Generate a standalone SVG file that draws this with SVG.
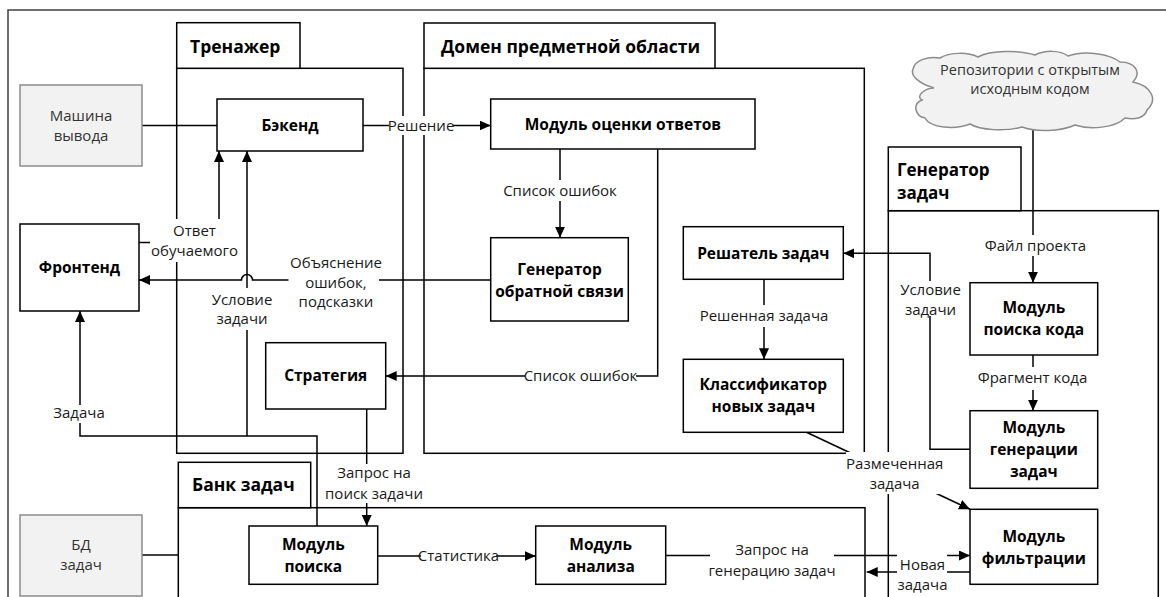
<svg xmlns="http://www.w3.org/2000/svg" width="1166" height="597" viewBox="0 0 1166 597">
<defs>
<marker id="ah" markerUnits="userSpaceOnUse" markerWidth="12" markerHeight="11" refX="11" refY="5" orient="auto">
<path d="M0,0 L11,5 L0,10 z" fill="#000"/>
</marker>
<style>
.box{fill:#fff;stroke:#000;stroke-width:1.5}
.gbox{fill:#f2f2f2;stroke:#8c8c8c;stroke-width:1.5}
.cont{fill:none;stroke:#000;stroke-width:1.5}
.tab{fill:#fff;stroke:#000;stroke-width:1.5}
.ln{fill:none;stroke:#000;stroke-width:1.5}
.arr{marker-end:url(#ah)}
.lbg{fill:#fff}
text{font-family:"Open Sans","Noto Sans","DejaVu Sans",sans-serif;font-size:15px;fill:#1a1a1a;text-anchor:middle}
.b{font-weight:bold;font-size:15.5px;fill:#000}
.h{font-weight:bold;font-size:17.5px;text-anchor:start;fill:#000}
.h2{font-size:17px}
.g{fill:#333}
.c{font-size:14.5px;fill:#333}
</style>
</defs>
<rect width="1166" height="597" fill="#fff"/>
<path d="M8,597 V10 H1166" fill="none" stroke="#404040" stroke-width="1.5"/>

<g id="trenazher">
<rect class="cont" x="176.7" y="68.3" width="226.3" height="385"/>
<rect class="tab" x="176.7" y="22.7" width="123.3" height="45.6"/>
<text class="h" x="190" y="52.5">Тренажер</text>
</g>
<g id="domen">
<rect class="cont" x="424" y="68.3" width="440.3" height="385"/>
<rect class="tab" x="424" y="23" width="291" height="45.3"/>
<text class="h" x="441" y="53">Домен предметной области</text>
</g>
<g id="generator-zadach">
<rect class="cont" x="888.3" y="210.7" width="270" height="420"/>
<rect class="tab" x="888.3" y="147" width="132.7" height="63.7"/>
<text class="h h2" x="897" y="175.5">Генератор</text>
<text class="h h2" x="897" y="198.5">задач</text>
</g>
<g id="bank-zadach">
<rect class="cont" x="178.3" y="507.7" width="686.7" height="120"/>
<rect class="tab" x="178.3" y="462.3" width="132.4" height="45.4"/>
<text class="h" x="192" y="491">Банк задач</text>
</g>

<g id="connectors">
<path class="ln" d="M142,125.5 H217"/>
<path class="ln arr" d="M363,125.5 H490.7"/>
<path class="ln arr" d="M560,149 V237.7"/>
<path class="ln arr" d="M657.7,149 V376 H385.7"/>
<path class="ln arr" d="M490.7,280 H252.5 A5.5,5.5 0 0 0 241.5,280 H139"/>
<path class="ln arr" d="M139,242.5 H219 V151"/>
<path class="ln arr" d="M317,526 V436 H80 V311"/>
<path class="ln arr" d="M247,436 V151"/>
<path class="ln arr" d="M366.7,409 V526"/>
<path class="ln arr" d="M377.7,556 H535.7"/>
<path class="ln arr" d="M665.7,555.5 H970"/>
<path class="ln arr" d="M970,572 H866.7"/>
<path class="ln arr" d="M806.5,432.3 L970,509.3"/>
<path class="ln arr" d="M970,449.3 H930 V253.3 H843.3"/>
<path class="ln arr" d="M1033,128 V282.7"/>
<path class="ln arr" d="M1033,355 V410.7"/>
<path class="ln" d="M142,555 H178.3"/>
<path class="ln arr" d="M764,279.3 V359.3"/>

<rect class="lbg" x="389" y="116" width="64" height="19"/>
<text x="421" y="130.5">Решение</text>
<rect class="lbg" x="505" y="180" width="110" height="21"/>
<text x="560" y="195.5">Список ошибок</text>
<rect class="lbg" x="525" y="367" width="111" height="19"/>
<text x="580.5" y="381">Список ошибок</text>
<rect class="lbg" x="288.5" y="252" width="90.5" height="60"/>
<text x="336" y="268">Объяснение</text>
<text x="336" y="288">ошибок,</text>
<text x="336" y="307">подсказки</text>
<rect class="lbg" x="150" y="219" width="88" height="43"/>
<text x="194.5" y="235.5">Ответ</text>
<text x="194.5" y="255.5">обучаемого</text>
<rect class="lbg" x="212" y="288" width="60" height="42"/>
<text x="242" y="305">Условие</text>
<text x="242" y="324">задачи</text>
<rect class="lbg" x="54" y="405" width="50" height="18"/>
<text x="79" y="418">Задача</text>
<rect class="lbg" x="327" y="464" width="94" height="39"/>
<text x="374" y="478">Запрос на</text>
<text x="374" y="499">поиск задачи</text>
<rect class="lbg" x="421" y="547" width="75" height="18"/>
<text x="458.5" y="560.5">Статистика</text>
<rect class="lbg" x="710" y="540" width="124" height="45"/>
<text x="772" y="555">Запрос на</text>
<text x="772" y="576">генерацию задач</text>
<rect class="lbg" x="897" y="553" width="50" height="44"/>
<text x="922.5" y="569.5">Новая</text>
<text x="922.5" y="589.5">задача</text>
<rect class="lbg" x="846" y="452" width="95" height="42"/>
<text x="894.7" y="469">Размеченная</text>
<text x="894.7" y="489">задача</text>
<rect class="lbg" x="900" y="281" width="61" height="35"/>
<text x="930.5" y="295">Условие</text>
<text x="930.5" y="315">задачи</text>
<rect class="lbg" x="987" y="235" width="98" height="21"/>
<text x="1035.5" y="251">Файл проекта</text>
<rect class="lbg" x="979" y="367" width="108" height="23"/>
<text x="1032.5" y="383">Фрагмент кода</text>
<rect class="lbg" x="704" y="305" width="120" height="22"/>
<text x="764" y="321">Решенная задача</text>
</g>

<g id="mashina-vyvoda">
<rect class="gbox" x="20" y="85" width="122" height="81"/>
<text class="g" x="81" y="121">Машина</text>
<text class="g" x="81" y="141">вывода</text>
</g>
<g id="backend">
<rect class="box" x="217" y="99" width="146" height="52"/>
<text class="b" x="290" y="130.5">Бэкенд</text>
</g>
<g id="modul-ocenki">
<rect class="box" x="490.7" y="99" width="264.3" height="50"/>
<text class="b" x="622.9" y="129.5">Модуль оценки ответов</text>
</g>
<g id="frontend">
<rect class="box" x="20" y="224" width="119" height="87"/>
<text class="b" x="79.5" y="273">Фронтенд</text>
</g>
<g id="generator-os">
<rect class="box" x="490.7" y="237.7" width="137.6" height="83.3"/>
<text class="b" x="559.5" y="275">Генератор</text>
<text class="b" x="559.5" y="297">обратной связи</text>
</g>
<g id="strategiya">
<rect class="box" x="265.7" y="342.7" width="120" height="66.3"/>
<text class="b" x="325.7" y="381">Стратегия</text>
</g>
<g id="reshatel">
<rect class="box" x="683.3" y="226.7" width="160" height="52.6"/>
<text class="b" x="763.3" y="258.5">Решатель задач</text>
</g>
<g id="klassifikator">
<rect class="box" x="683.3" y="359.3" width="160" height="73"/>
<text class="b" x="763.3" y="389.5">Классификатор</text>
<text class="b" x="763.3" y="411.5">новых задач</text>
</g>
<g id="repo">
<path class="gbox" d="M913,69 C915,60 928,56 940,58 C950,52 968,52 978,57 C990,50 1020,50 1035,55 C1045,50 1060,50 1068,56 C1085,50 1110,54 1120,62 C1135,62 1142,72 1133,82 C1152,86 1158,100 1147,110 C1145,118 1135,120 1125,118 C1115,128 1090,130 1075,125 C1060,132 1035,132 1022,127 C1005,132 980,130 970,124 C955,130 930,128 925,118 C915,116 912,104 922,100 C915,96 925,88 934,88 C920,84 910,76 913,69 Z"/>
<text class="c" x="1030" y="75">Репозитории с открытым</text>
<text class="c" x="1030" y="94">исходным кодом</text>
</g>
<g id="modul-poiska-koda">
<rect class="box" x="970" y="282.7" width="127.7" height="72.3"/>
<text class="b" x="1033.8" y="313">Модуль</text>
<text class="b" x="1033.8" y="335">поиска кода</text>
</g>
<g id="modul-generacii">
<rect class="box" x="970" y="410.7" width="127.7" height="77.6"/>
<text class="b" x="1033.8" y="433">Модуль</text>
<text class="b" x="1033.8" y="455">генерации</text>
<text class="b" x="1033.8" y="477">задач</text>
</g>
<g id="modul-filtracii">
<rect class="box" x="970" y="509.3" width="127.7" height="75"/>
<text class="b" x="1033.8" y="541.5">Модуль</text>
<text class="b" x="1033.8" y="563.5">фильтрации</text>
</g>
<g id="bd-zadach">
<rect class="gbox" x="20" y="515" width="122" height="81"/>
<text class="g" x="81" y="550">БД</text>
<text class="g" x="81" y="570">задач</text>
</g>
<g id="modul-poiska">
<rect class="box" x="249" y="526" width="128.7" height="58.3"/>
<text class="b" x="313.3" y="549.5">Модуль</text>
<text class="b" x="313.3" y="571.5">поиска</text>
</g>
<g id="modul-analiza">
<rect class="box" x="535.7" y="526" width="130" height="58.3"/>
<text class="b" x="600.7" y="549.5">Модуль</text>
<text class="b" x="600.7" y="571.5">анализа</text>
</g>
</svg>
